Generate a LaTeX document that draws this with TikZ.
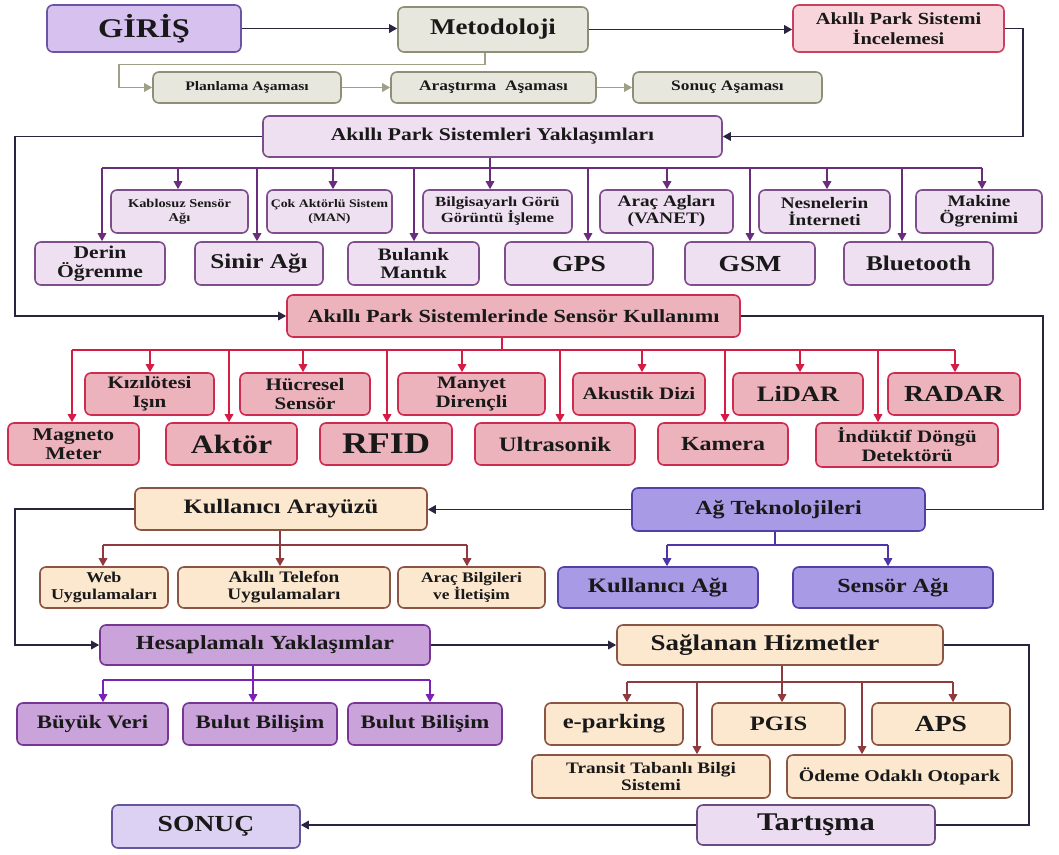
\documentclass[tikz,border=0pt]{standalone}
\usepackage{fontspec}
\setmainfont{Liberation Serif}[FakeStretch=1.2]
\usetikzlibrary{arrows.meta,calc}

\definecolor{akisC}{HTML}{2B2440}
\definecolor{girF}{HTML}{D6C1EF}\definecolor{girD}{HTML}{6B55A3}
\definecolor{metF}{HTML}{E7E7DD}\definecolor{metD}{HTML}{8F8F78}\definecolor{metC}{HTML}{A0A088}
\definecolor{incF}{HTML}{F8D5DA}\definecolor{incD}{HTML}{C8415F}
\definecolor{yakF}{HTML}{EFE0F1}\definecolor{yakD}{HTML}{7D4D8C}\definecolor{yakC}{HTML}{6A2C7C}
\definecolor{senF}{HTML}{ECB3BC}\definecolor{senD}{HTML}{CC2C50}\definecolor{senC}{HTML}{D61C45}
\definecolor{kulF}{HTML}{FCE7CF}\definecolor{kulD}{HTML}{8C5543}\definecolor{kulC}{HTML}{8E3A3E}
\definecolor{agF}{HTML}{A99AE6}\definecolor{agD}{HTML}{5340A6}\definecolor{agC}{HTML}{4F35A8}
\definecolor{hesF}{HTML}{C9A3DA}\definecolor{hesD}{HTML}{773694}\definecolor{hesC}{HTML}{7A22B3}
\definecolor{tarF}{HTML}{ECDCF1}\definecolor{tarD}{HTML}{6B4B82}
\definecolor{sonF}{HTML}{DDD1F3}\definecolor{sonD}{HTML}{6556A0}

\tikzset{
  kutu/.style={rounded corners=6pt, line width=1.6pt, align=center, inner sep=0pt, text=black!90},
  wh/.style 2 args={minimum width=#1pt, minimum height=#2pt},
  fs/.style 2 args={font=\fontsize{#1}{#2}\selectfont\bfseries},
  gir/.style={kutu, draw=girD, fill=girF},
  met/.style={kutu, draw=metD, fill=metF},
  inc/.style={kutu, draw=incD, fill=incF},
  yak/.style={kutu, draw=yakD, fill=yakF},
  sen/.style={kutu, draw=senD, fill=senF},
  kul/.style={kutu, draw=kulD, fill=kulF},
  ag/.style={kutu, draw=agD, fill=agF},
  hes/.style={kutu, draw=hesD, fill=hesF},
  tar/.style={kutu, draw=tarD, fill=tarF},
  son/.style={kutu, draw=sonD, fill=sonF},
  hat/.style={line width=1.6pt},
  ok/.style={hat, -{Triangle[length=8pt,width=8.5pt]}},
  akis/.style={line width=1.8pt, akisC},
}

\begin{document}
\begin{tikzpicture}[x=1pt,y=-1pt]
\fill[white] (0,0) rectangle (1059,854);
\useasboundingbox (0,0) rectangle (1059,854);

\node[gir, wh={194}{47}, fs={27}{30}] (giris) at (144,28.5) {GİRİŞ};
\node[met, wh={190}{45}, fs={22.5}{24}] (metodoloji) at (493,29.5) {Metodoloji};
\node[inc, wh={211}{47}, fs={17}{20}] (inceleme) at (898.5,28.5) {Akıllı Park Sistemi\\İncelemesi};

\node[met, wh={188}{31}, fs={13}{15}] (planlama) at (247,87.5) {Planlama Aşaması};
\node[met, wh={205}{31}, fs={14.5}{16}] (arastirma) at (493.5,87.5) {Araştırma\ \ Aşaması};
\node[met, wh={189}{31}, fs={14.5}{16}] (sonucasama) at (727.5,87.5) {Sonuç Aşaması};

\node[yak, wh={459}{41}, fs={18}{20}] (yaklasim) at (492.5,136.5) {Akıllı Park Sistemleri Yaklaşımları};

\node[yak, wh={137}{43}, fs={12}{14}] (kablosuz) at (179.5,211.5) {Kablosuz Sensör\\Ağı};
\node[yak, wh={125}{43}, fs={11.5}{14}] (cokaktor) at (329.5,211.5) {Çok Aktörlü Sistem\\(MAN)};
\node[yak, wh={149}{43}, fs={14}{16}] (bilgisayar) at (497.5,211.5) {Bilgisayarlı Görü\\Görüntü İşleme};
\node[yak, wh={133}{43}, fs={16}{17}] (aracag) at (666.5,211.5) {Araç Agları\\(VANET)};
\node[yak, wh={131}{43}, fs={16}{17}] (nesne) at (824.5,211.5) {Nesnelerin\\İnterneti};
\node[yak, wh={126}{43}, fs={16}{17}] (makine) at (979,211.5) {Makine\\Ögrenimi};

\node[yak, wh={130}{43}, fs={18}{18.5}] (derin) at (100,263.5) {Derin\\Öğrenme};
\node[yak, wh={128}{43}, fs={21}{23}] (sinir) at (259,263.5) {Sinir Ağı};
\node[yak, wh={131}{43}, fs={17.5}{18.5}] (bulanik) at (413.5,263.5) {Bulanık\\Mantık};
\node[yak, wh={148}{43}, fs={23}{25}] (gps) at (579,263.5) {GPS};
\node[yak, wh={130}{43}, fs={23}{25}] (gsm) at (750,263.5) {GSM};
\node[yak, wh={149}{43}, fs={21}{23}] (bluetooth) at (918.5,263.5) {Bluetooth};

\node[sen, wh={453}{42}, fs={18.5}{20}] (sensor) at (513.5,316) {Akıllı Park Sistemlerinde Sensör Kullanımı};

\node[sen, wh={129}{42}, fs={17.5}{19}] (kizil) at (149.5,394) {Kızılötesi\\Işın};
\node[sen, wh={130}{42}, fs={17.5}{19}] (hucre) at (305,394) {Hücresel\\Sensör};
\node[sen, wh={147}{42}, fs={17.5}{19}] (manyet) at (471.5,394) {Manyet\\Dirençli};
\node[sen, wh={132}{42}, fs={17.5}{19}] (akustik) at (639,394) {Akustik Dizi};
\node[sen, wh={130}{42}, fs={22}{24}] (lidar) at (798,394) {LiDAR};
\node[sen, wh={132}{42}, fs={23}{25}] (radar) at (954,394) {RADAR};

\node[sen, wh={131}{42}, fs={18}{19}] (magneto) at (73.5,444) {Magneto\\Meter};
\node[sen, wh={131}{42}, fs={26.5}{28}] (aktor) at (231.5,444) {Aktör};
\node[sen, wh={132}{42}, fs={30}{32}] (rfid) at (386,444) {RFID};
\node[sen, wh={160}{42}, fs={20.5}{22}] (ultra) at (555,444) {Ultrasonik};
\node[sen, wh={130}{42}, fs={20}{22}] (kamera) at (723,444) {Kamera};
\node[sen, wh={182}{44}, fs={17.5}{19}] (induktif) at (907,445) {İndüktif Döngü\\Detektörü};

\node[kul, wh={292}{42}, fs={20.5}{22}] (arayuz) at (281,509) {Kullanıcı Arayüzü};
\node[kul, wh={128}{41}, fs={15}{17}] (web) at (104,587.5) {Web\\Uygulamaları};
\node[kul, wh={212}{41}, fs={16}{17}] (telefon) at (284,587.5) {Akıllı Telefon\\Uygulamaları};
\node[kul, wh={147}{41}, fs={14.5}{17}] (aracbilgi) at (471.5,587.5) {Araç Bilgileri\\ve İletişim};

\node[ag, wh={293}{43}, fs={20}{22}] (agtek) at (778.5,509.5) {Ağ Teknolojileri};
\node[ag, wh={200}{41}, fs={20.5}{22}] (kulagi) at (658,587.5) {Kullanıcı Ağı};
\node[ag, wh={200}{41}, fs={20}{22}] (senagi) at (893,587.5) {Sensör Ağı};

\node[hes, wh={330}{40}, fs={20}{22}] (hesap) at (265,645) {Hesaplamalı Yaklaşımlar};
\node[hes, wh={151}{42}, fs={19}{21}] (buyuk) at (92.5,724) {Büyük Veri};
\node[hes, wh={154}{42}, fs={19}{21}] (bulut) at (260,724) {Bulut Bilişim};
\node[hes, wh={154}{42}, fs={19}{21}] (bulutb) at (425,724) {Bulut Bilişim};

\node[kul, wh={326}{40}, fs={22.5}{24}] (hizmet) at (780,645) {Sağlanan Hizmetler\hspace*{30pt}};
\node[kul, wh={138}{42}, fs={20.5}{22}] (eparking) at (614,724) {e-parking};
\node[kul, wh={133}{42}, fs={20.5}{22}] (pgis) at (778.5,724) {PGIS};
\node[kul, wh={138}{42}, fs={23}{25}] (aps) at (941,724) {APS};
\node[kul, wh={238}{43}, fs={16}{17.5}] (transit) at (651,776.5) {Transit Tabanlı Bilgi\\Sistemi};
\node[kul, wh={225}{43}, fs={16.5}{18}] (odeme) at (899.5,776.5) {Ödeme Odaklı Otopark};

\node[tar, wh={238}{40}, fs={25.5}{27}] (tartisma) at (816,825) {Tartışma};
\node[son, wh={188}{43}, fs={23}{25}] (sonuc) at (206,826.5) {SONUÇ};

\draw[akis,ok] (giris.east) -- (giris.east -| metodoloji.west);
\draw[akis,ok] (metodoloji.east) -- (metodoloji.east -| inceleme.west);
\draw[ok,metC] ([xshift=-8]metodoloji.south) -- ++(0,11.5) -| ([xshift=-33]planlama.west) -- (planlama.west);
\draw[ok,metC] (planlama) -- (arastirma);
\draw[ok,metC] (arastirma) -- (sonucasama);
\draw[akis,ok] (inceleme.east) -- ++(18,0) |- (yaklasim.east);
\draw[akis,ok] (yaklasim.west) -- ++(-247,0) |- (sensor.west);
\draw[akis] (sensor.east) -- ++(302,0) |- (agtek.east);
\draw[akis,ok] (agtek.west) -- (agtek.west -| arayuz.east);
\draw[akis,ok] (arayuz.west) -- ++(-119,0) |- (hesap.west);
\draw[akis,ok] (hesap) -- (hizmet);
\draw[akis] (hizmet.east) -- ++(85,0) |- (tartisma.east);
\draw[akis,ok] (tartisma.west) -- (tartisma.west -| sonuc.east);

\coordinate (yakbus) at (0,168);
\draw[hat,yakC] ([xshift=-2.5]yaklasim.south) -- ([xshift=-2.5]yaklasim.south |- yakbus);
\draw[hat,yakC] ([xshift=2]derin.north |- yakbus) -- ([xshift=3]makine.north |- yakbus);
\foreach \n/\s in {kablosuz/-1.5, cokaktor/3.5, bilgisayar/-7.5, aracag/0.5, nesne/2.5, makine/3, derin/2, sinir/-2, bulanik/0.5, gps/9, gsm/0, bluetooth/-16.5}
  \draw[ok,yakC] ([xshift=\s]\n.north |- yakbus) -- ([xshift=\s]\n.north);

\coordinate (senbus) at (0,350);
\draw[hat,senC] ([xshift=-11.5]sensor.south) -- ([xshift=-11.5]sensor.south |- senbus);
\draw[hat,senC] ([xshift=-1.5]magneto.north |- senbus) -- ([xshift=1]radar.north |- senbus);
\foreach \n/\s in {kizil/0.5, hucre/-2, manyet/-9.5, akustik/3, lidar/2, radar/1, magneto/-1.5, aktor/-2.5, rfid/1, ultra/5, kamera/2, induktif/-29}
  \draw[ok,senC] ([xshift=\s]\n.north |- senbus) -- ([xshift=\s]\n.north);

\coordinate (kulbus) at (0,545);
\draw[hat,kulC] ([xshift=-1]arayuz.south) -- ([xshift=-1]arayuz.south |- kulbus);
\draw[hat,kulC] ([xshift=-1]web.north |- kulbus) -- ([xshift=-4.5]aracbilgi.north |- kulbus);
\foreach \n/\s in {web/-1, telefon/-4, aracbilgi/-4.5}
  \draw[ok,kulC] ([xshift=\s]\n.north |- kulbus) -- ([xshift=\s]\n.north);

\draw[hat,agC] ([xshift=-3.5]agtek.south) -- ([xshift=-3.5]agtek.south |- kulbus);
\draw[hat,agC] ([xshift=9]kulagi.north |- kulbus) -- ([xshift=-5]senagi.north |- kulbus);
\foreach \n/\s in {kulagi/9, senagi/-5}
  \draw[ok,agC] ([xshift=\s]\n.north |- kulbus) -- ([xshift=\s]\n.north);

\coordinate (hesbus) at (0,680);
\draw[hat,hesC] ([xshift=-12]hesap.south) -- ([xshift=-12]hesap.south |- hesbus);
\draw[hat,hesC] ([xshift=10.5]buyuk.north |- hesbus) -- ([xshift=5]bulutb.north |- hesbus);
\foreach \n/\s in {buyuk/10.5, bulut/-7, bulutb/5}
  \draw[ok,hesC] ([xshift=\s]\n.north |- hesbus) -- ([xshift=\s]\n.north);

\coordinate (hizbus) at (0,682);
\draw[hat,kulC] ([xshift=2]hizmet.south) -- ([xshift=2]hizmet.south |- hizbus);
\draw[hat,kulC] ([xshift=13]eparking.north |- hizbus) -- ([xshift=12]aps.north |- hizbus);
\foreach \n/\s in {eparking/13, pgis/3.5, aps/12, transit/46, odeme/-37.5}
  \draw[ok,kulC] ([xshift=\s]\n.north |- hizbus) -- ([xshift=\s]\n.north);
\end{tikzpicture}
\end{document}
